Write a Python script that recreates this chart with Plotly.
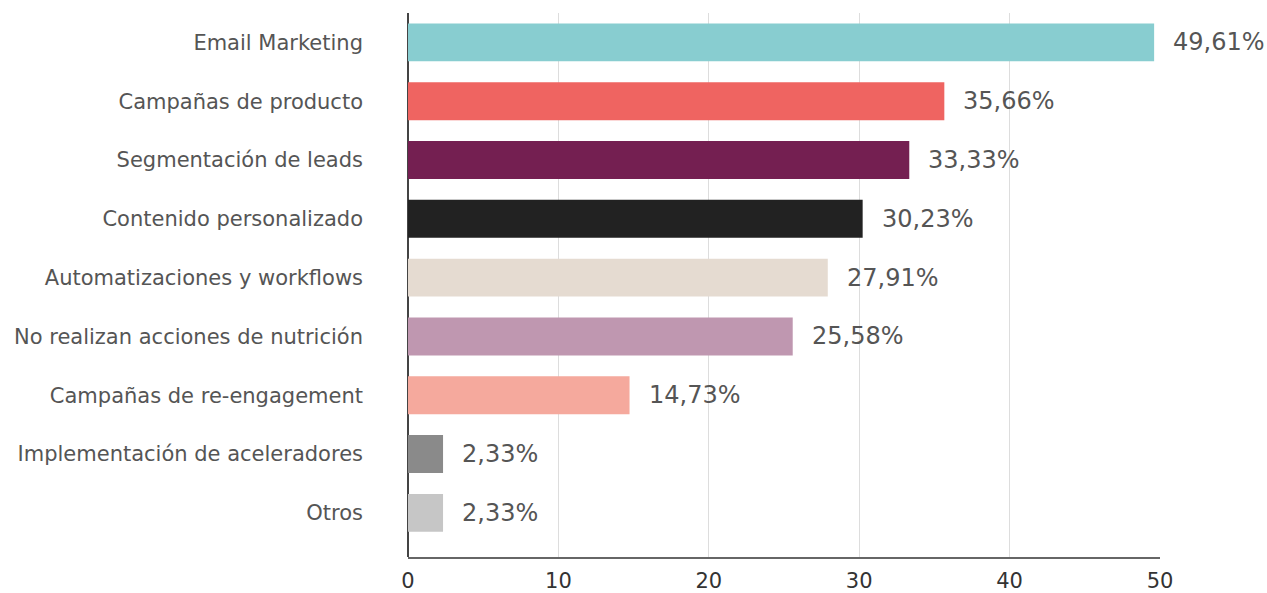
import plotly.graph_objects as go

categories = ["Email Marketing", "Campañas de producto", "Segmentación de leads",
              "Contenido personalizado", "Automatizaciones y workflows",
              "No realizan acciones de nutrición", "Campañas de re-engagement",
              "Implementación de aceleradores", "Otros"]
values = [49.61, 35.66, 33.33, 30.23, 27.91, 25.58, 14.73, 2.33, 2.33]
colors = ["#88CDD0", "#EF6461", "#741F51", "#222222", "#E5DBD1",
          "#BF97B0", "#F5A99D", "#8A8A8A", "#C6C6C6"]
x_ticks = [0, 10, 20, 30, 40, 50]

labels = [f"{v:.2f}".replace(".", ",") + "%" for v in values]

FONT = "DejaVu Sans"

fig = go.Figure(go.Bar(
    x=values, y=categories, orientation="h",
    marker=dict(color=colors, line=dict(width=0)),
    width=0.645, hoverinfo="skip",
))

for c, v, t in zip(categories, values, labels):
    fig.add_annotation(x=v, y=c, text=t, showarrow=False, xanchor="left",
                       xshift=17, font=dict(family=FONT, size=24, color="#555555"))

fig.update_layout(
    width=1267, height=593,
    margin=dict(l=408, r=107, t=13, b=36, autoexpand=False),
    paper_bgcolor="white", plot_bgcolor="white",
    showlegend=False,
    font=dict(family=FONT),
)
fig.update_xaxes(range=[0, 50], tickvals=x_ticks, showgrid=True, gridcolor="#DDDDDD",
                 gridwidth=1, zeroline=True, zerolinecolor="#444444", zerolinewidth=1.5,
                 showline=True, linecolor="#666666", linewidth=1.5, automargin=False,
                 tickfont=dict(family=FONT, size=21, color="#333333"), ticks="",
                 ticklabelstandoff=4)
fig.update_yaxes(type="category", categoryorder="array", categoryarray=categories,
                 range=[8.75, -0.5], showgrid=False, ticks="", automargin=False,
                 tickfont=dict(family=FONT, size=21, color="#555555"),
                 ticklabelstandoff=44)

fig.write_html("out.html")
